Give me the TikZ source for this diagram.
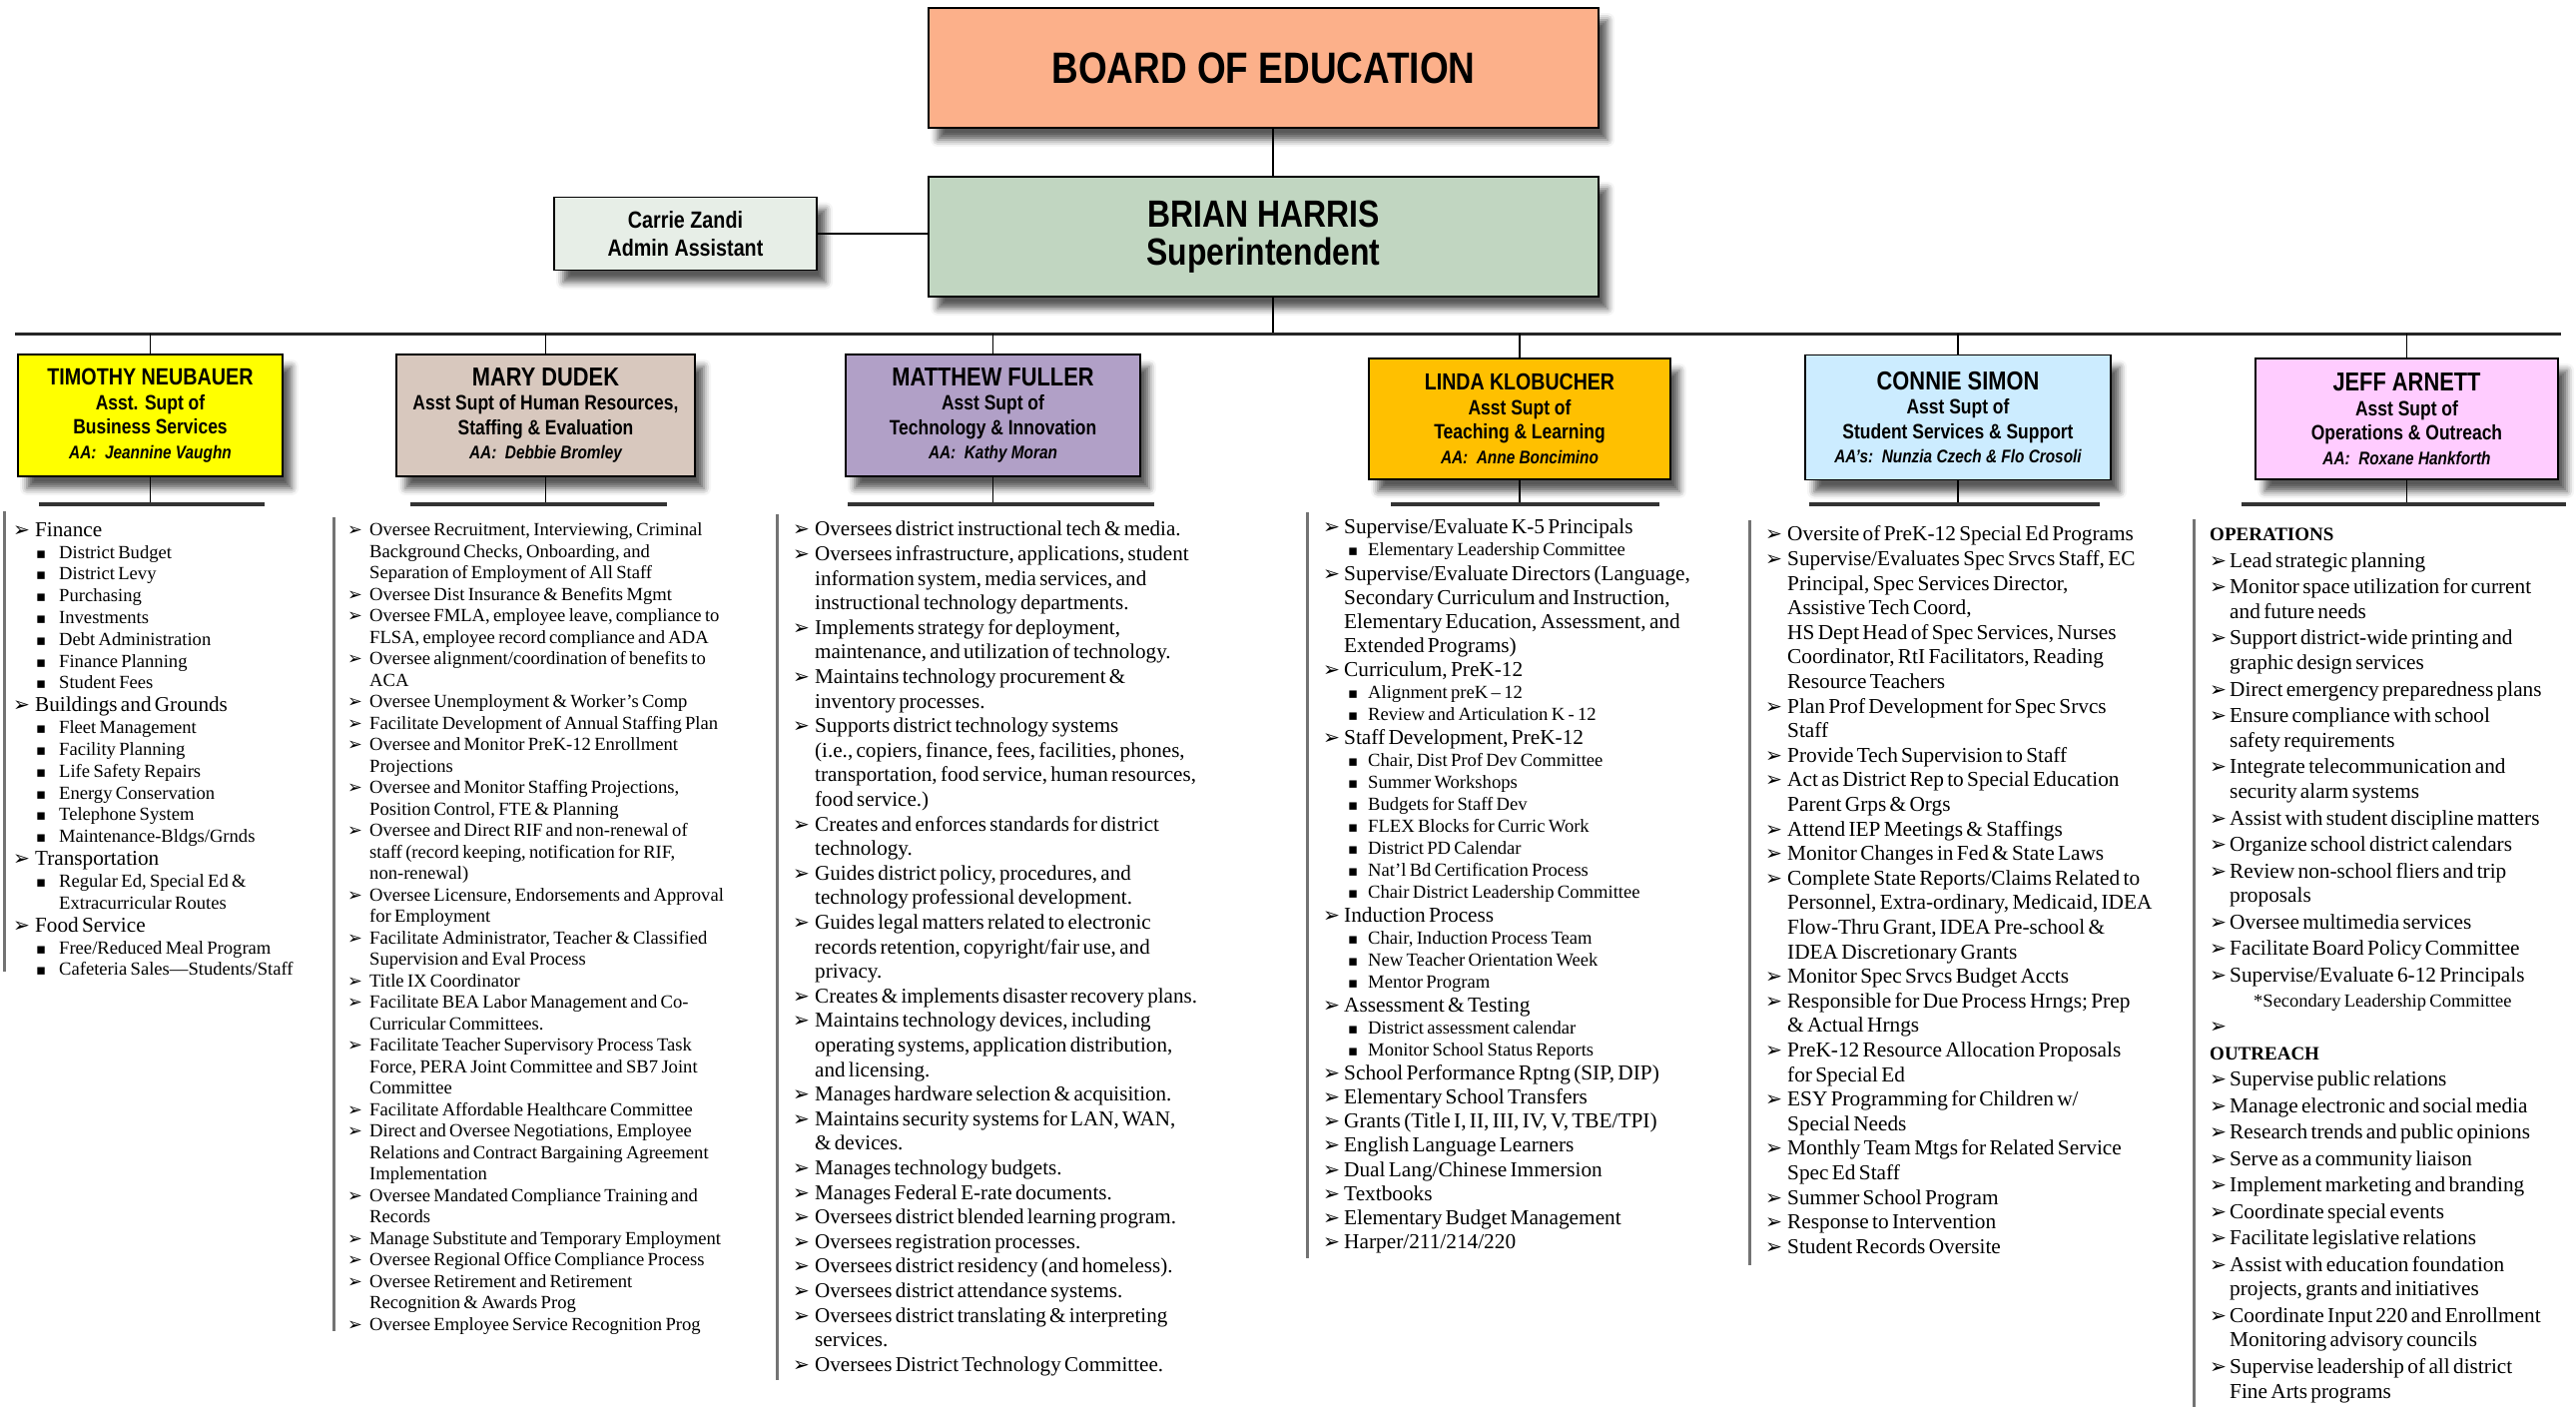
\documentclass[tikz,border=0pt]{standalone}
\usepackage{fontspec}
\setmainfont{Liberation Serif}
\newfontfamily\headfont[FakeStretch=0.84]{Liberation Sans}
\newfontfamily\dingfont{DejaVu Sans}
\usetikzlibrary{shadows.blur}

\definecolor{boardorange}{RGB}{252,176,138}
\definecolor{supgreen}{RGB}{193,214,193}
\definecolor{aidegreen}{RGB}{231,238,231}
\definecolor{bizyellow}{RGB}{255,255,0}
\definecolor{hrtan}{RGB}{216,200,190}
\definecolor{techlilac}{RGB}{177,160,199}
\definecolor{teachgold}{RGB}{255,192,0}
\definecolor{studblue}{RGB}{204,236,255}
\definecolor{opspink}{RGB}{255,204,255}

% duty lists
\newlength{\tickw}\newlength{\subin}\newlength{\subw}
\newcommand{\bigitemfont}{}
\newcommand{\smallitemfont}{}
\newcommand{\tstrut}{\vrule height .75em depth 0pt width 0pt}
\newcommand{\listsetup}[7]{\setlength{\tickw}{#1}\setlength{\subin}{#2}\setlength{\subw}{#3}%
  \renewcommand{\bigitemfont}{\fontsize{#4}{#5}\selectfont}%
  \renewcommand{\smallitemfont}{\fontsize{#6}{#7}\selectfont}\parskip=0pt}
\newcommand{\mainpt}[1]{\par\bigitemfont\hangindent=\tickw\hangafter=1\noindent
  \makebox[\tickw][l]{\scalebox{.95}{\dingfont ➢}}\tstrut#1}
\newcommand{\subpt}[1]{\par\smallitemfont\hangindent=\dimexpr\tickw+\subin+\subw\relax\hangafter=1\noindent
  \hspace*{\dimexpr\tickw+\subin\relax}\makebox[\subw][l]{\scalebox{.8}{\dingfont ▪}}\tstrut#1}
\newcommand{\grouphead}[1]{\par\fontsize{19}{24.7}\selectfont\bfseries\noindent\tstrut#1\par\mdseries}
\newcommand{\notept}[1]{\par\smallitemfont\noindent\hspace*{44pt}\tstrut#1}

% box titles
\newcommand{\headname}[2]{{\fontsize{#1}{24.5}\selectfont #2}}
\newcommand{\aaline}[1]{{\itshape\fontsize{18.3}{24.5}\selectfont #1}}

\tikzset{
  box/.style={draw=black, line width=1.4pt, inner sep=0pt, align=center,
    blur shadow={shadow xshift=9pt, shadow yshift=-12pt, shadow blur radius=7pt, shadow opacity=65}},
  topbox/.style={box},
  headbox/.style={box, minimum height=122pt, font=\headfont\bfseries\fontsize{20.8}{24.5}\selectfont},
  wire/.style={line width=1.6pt},
  bus/.style={line width=3pt, black!85},
  colbar/.style={line width=3.5pt, black!80},
  colrule/.style={line width=3pt, black!55},
  column/.style={anchor=north west, inner sep=0pt, text width=560pt}
}

\begin{document}
\begin{tikzpicture}[x=1pt,y=-1pt]
\useasboundingbox (0,0) rectangle (2580,1413);

% board and superintendent
\node[topbox, fill=boardorange, minimum width=671pt, minimum height=120pt,
  font=\headfont\bfseries\fontsize{44}{50}\selectfont] (board) at (1265.5,68) {BOARD OF EDUCATION};
\node[topbox, fill=supgreen, minimum width=671pt, minimum height=120pt,
  font=\headfont\bfseries\fontsize{38}{38}\selectfont] (sup) at (1265.5,237) {BRIAN HARRIS\\Superintendent};
\node[topbox, fill=aidegreen, minimum width=263pt, minimum height=73pt,
  font=\headfont\bfseries\fontsize{23.5}{28}\selectfont] (aide) at (686.5,234) {Carrie Zandi\\Admin Assistant};

\coordinate (trunk) at (1275,334);
\draw[wire] (board.south -| trunk) -- (sup.north -| trunk);
\draw[wire] (aide.east) -- (aide.east -| sup.west);
\draw[wire] (sup.south -| trunk) -- (trunk);
\draw[bus] (15,334) -- (2565,334);

% assistant superintendents
\node[headbox, fill=bizyellow, minimum width=265pt] (tim) at (150.5,416)
  {\headname{23.5}{TIMOTHY NEUBAUER}\\Asst. Supt of\\Business Services\\\aaline{AA:\ \ Jeannine Vaughn}};
\node[headbox, fill=hrtan, minimum width=299pt] (mary) at (546.5,416)
  {\headname{26}{MARY DUDEK}\\Asst Supt of Human Resources,\\Staffing \& Evaluation\\\aaline{AA:\ \ Debbie Bromley}};
\node[headbox, fill=techlilac, minimum width=295pt] (matt) at (994.5,416)
  {\headname{26}{MATTHEW FULLER}\\Asst Supt of\\Technology \& Innovation\\\aaline{AA:\ \ Kathy Moran}};
\node[headbox, fill=teachgold, minimum width=302pt, minimum height=121pt] (linda) at (1522,419.5)
  {\headname{23.3}{LINDA KLOBUCHER}\\Asst Supt of\\Teaching \& Learning\\\aaline{AA:\ \ Anne Boncimino}};
\node[headbox, fill=studblue, minimum width=306pt, minimum height=125pt] (connie) at (1961,418)
  {\headname{26}{CONNIE SIMON}\\Asst Supt of\\Student Services \& Support\\\aaline{AA’s:\ \ Nunzia Czech \& Flo Crosoli}};
\node[headbox, fill=opspink, minimum width=303pt, minimum height=121pt] (jeff) at (2410.5,419.5)
  {\headname{26}{JEFF ARNETT}\\Asst Supt of\\Operations \& Outreach\\\aaline{AA:\ \ Roxane Hankforth}};

\foreach \h/\a/\b in {tim/39/265, mary/411/668, matt/849/1156, linda/1393/1662, connie/1812/2103, jeff/2245/2570} {
  \draw[wire] (\h.north) -- (\h.north |- trunk);
  \draw[wire] (\h.south) -- (\h.south |- 0,505);
  \draw[colbar] (\a,505) -- (\b,505);
}

% rules beside the lists
\draw[colrule] (4,512) -- (4,973);
\draw[colrule] (334,518) -- (334,1333);
\draw[colrule] (778,515) -- (778,1382);
\draw[colrule] (1309,513) -- (1309,1260);
\draw[colrule] (1752,521) -- (1752,1267);
\draw[colrule] (2197,520) -- (2197,1409);

% business services
\node[column] (bizlist) at (13,514) {\listsetup{22pt}{1pt}{23pt}{21.2}{23}{18.6}{21.8}%
\mainpt{Finance}
\subpt{District Budget}
\subpt{District Levy}
\subpt{Purchasing}
\subpt{Investments}
\subpt{Debt Administration}
\subpt{Finance Planning}
\subpt{Student Fees}
\mainpt{Buildings and Grounds}
\subpt{Fleet Management}
\subpt{Facility Planning}
\subpt{Life Safety Repairs}
\subpt{Energy Conservation}
\subpt{Telephone System}
\subpt{Maintenance-Bldgs/Grnds}
\mainpt{Transportation}
\subpt{Regular Ed, Special Ed \&\newline Extracurricular Routes}
\mainpt{Food Service}
\subpt{Free/Reduced Meal Program}
\subpt{Cafeteria Sales—Students/Staff}
\par};

% human resources
\node[column] (hrlist) at (348,515) {\listsetup{22pt}{0pt}{0pt}{18.6}{21.5}{18.6}{21.5}%
\mainpt{Oversee Recruitment, Interviewing, Criminal\newline Background Checks, Onboarding, and\newline Separation of Employment of All Staff}
\mainpt{Oversee Dist Insurance \& Benefits Mgmt}
\mainpt{Oversee FMLA, employee leave, compliance to\newline FLSA, employee record compliance and ADA}
\mainpt{Oversee alignment/coordination of benefits to\newline ACA}
\mainpt{Oversee Unemployment \& Worker’s Comp}
\mainpt{Facilitate Development of Annual Staffing Plan}
\mainpt{Oversee and Monitor PreK-12 Enrollment\newline Projections}
\mainpt{Oversee and Monitor Staffing Projections,\newline Position Control, FTE \& Planning}
\mainpt{Oversee and Direct RIF and non-renewal of\newline staff (record keeping, notification for RIF,\newline non-renewal)}
\mainpt{Oversee Licensure, Endorsements and Approval\newline for Employment}
\mainpt{Facilitate Administrator, Teacher \& Classified\newline Supervision and Eval Process}
\mainpt{Title IX Coordinator}
\mainpt{Facilitate BEA Labor Management and Co-\newline Curricular Committees.}
\mainpt{Facilitate Teacher Supervisory Process Task\newline Force, PERA Joint Committee and SB7 Joint\newline Committee}
\mainpt{Facilitate Affordable Healthcare Committee}
\mainpt{Direct and Oversee Negotiations, Employee\newline Relations and Contract Bargaining Agreement\newline Implementation}
\mainpt{Oversee Mandated Compliance Training and\newline Records}
\mainpt{Manage Substitute and Temporary Employment}
\mainpt{Oversee Regional Office Compliance Process}
\mainpt{Oversee Retirement and Retirement\newline Recognition \& Awards Prog}
\mainpt{Oversee Employee Service Recognition Prog}
\par};

% technology
\node[column] (techlist) at (794,512) {\listsetup{22pt}{0pt}{0pt}{21.1}{24.6}{18.6}{21.5}%
\mainpt{Oversees district instructional tech \& media.}
\mainpt{Oversees infrastructure, applications, student\newline information system, media services, and\newline instructional technology departments.}
\mainpt{Implements strategy for deployment,\newline maintenance, and utilization of technology.}
\mainpt{Maintains technology procurement \&\newline inventory processes.}
\mainpt{Supports district technology systems\newline (i.e., copiers, finance, fees, facilities, phones,\newline transportation, food service, human resources,\newline food service.)}
\mainpt{Creates and enforces standards for district\newline technology.}
\mainpt{Guides district policy, procedures, and\newline technology professional development.}
\mainpt{Guides legal matters related to electronic\newline records retention, copyright/fair use, and\newline privacy.}
\mainpt{Creates \& implements disaster recovery plans.}
\mainpt{Maintains technology devices, including\newline operating systems, application distribution,\newline and licensing.}
\mainpt{Manages hardware selection \& acquisition.}
\mainpt{Maintains security systems for LAN, WAN,\newline \& devices.}
\mainpt{Manages technology budgets.}
\mainpt{Manages Federal E-rate documents.}
\mainpt{Oversees district blended learning program.}
\mainpt{Oversees registration processes.}
\mainpt{Oversees district residency (and homeless).}
\mainpt{Oversees district attendance systems.}
\mainpt{Oversees district translating \& interpreting\newline services.}
\mainpt{Oversees District Technology Committee.}
\par};

% teaching and learning
\node[column] (teachlist) at (1325,510.5) {\listsetup{21pt}{4pt}{20pt}{21.3}{24.2}{18.6}{21.9}%
\mainpt{Supervise/Evaluate K-5 Principals}
\subpt{Elementary Leadership Committee}
\mainpt{Supervise/Evaluate Directors (Language,\newline Secondary Curriculum and Instruction,\newline Elementary Education, Assessment, and\newline Extended Programs)}
\mainpt{Curriculum, PreK-12}
\subpt{Alignment preK – 12}
\subpt{Review and Articulation K - 12}
\mainpt{Staff Development, PreK-12}
\subpt{Chair, Dist Prof Dev Committee}
\subpt{Summer Workshops}
\subpt{Budgets for Staff Dev}
\subpt{FLEX Blocks for Curric Work}
\subpt{District PD Calendar}
\subpt{Nat’l Bd Certification Process}
\subpt{Chair District Leadership Committee}
\mainpt{Induction Process}
\subpt{Chair, Induction Process Team}
\subpt{New Teacher Orientation Week}
\subpt{Mentor Program}
\mainpt{Assessment \& Testing}
\subpt{District assessment calendar}
\subpt{Monitor School Status Reports}
\mainpt{School Performance Rptng (SIP, DIP)}
\mainpt{Elementary School Transfers}
\mainpt{Grants (Title I, II, III, IV, V, TBE/TPI)}
\mainpt{English Language Learners}
\mainpt{Dual Lang/Chinese Immersion}
\mainpt{Textbooks}
\mainpt{Elementary Budget Management}
\mainpt{Harper/211/214/220}
\par};

% student services
\node[column] (studlist) at (1768,517) {\listsetup{22pt}{0pt}{0pt}{21.3}{24.6}{18.6}{21.5}%
\mainpt{Oversite of PreK-12 Special Ed Programs}
\mainpt{Supervise/Evaluates Spec Srvcs Staff, EC\newline Principal, Spec Services Director,\newline Assistive Tech Coord,\newline HS Dept Head of Spec Services, Nurses\newline Coordinator, RtI Facilitators, Reading\newline Resource Teachers}
\mainpt{Plan Prof Development for Spec Srvcs\newline Staff}
\mainpt{Provide Tech Supervision to Staff}
\mainpt{Act as District Rep to Special Education\newline Parent Grps \& Orgs}
\mainpt{Attend IEP Meetings \& Staffings}
\mainpt{Monitor Changes in Fed \& State Laws}
\mainpt{Complete State Reports/Claims Related to\newline Personnel, Extra-ordinary, Medicaid, IDEA\newline Flow-Thru Grant, IDEA Pre-school \&\newline IDEA Discretionary Grants}
\mainpt{Monitor Spec Srvcs Budget Accts}
\mainpt{Responsible for Due Process Hrngs; Prep\newline \& Actual Hrngs}
\mainpt{PreK-12 Resource Allocation Proposals\newline for Special Ed}
\mainpt{ESY Programming for Children w/\newline Special Needs}
\mainpt{Monthly Team Mtgs for Related Service\newline Spec Ed Staff}
\mainpt{Summer School Program}
\mainpt{Response to Intervention}
\mainpt{Student Records Oversite}
\par};

% operations and outreach
\node[column] (opslist) at (2213,515) {\listsetup{20pt}{0pt}{0pt}{21.3}{24.7}{18.5}{23}\parskip=1.8pt%
\grouphead{OPERATIONS}
\mainpt{Lead strategic planning}
\mainpt{Monitor space utilization for current\newline and future needs}
\mainpt{Support district-wide printing and\newline graphic design services}
\mainpt{Direct emergency preparedness plans}
\mainpt{Ensure compliance with school\newline safety requirements}
\mainpt{Integrate telecommunication and\newline security alarm systems}
\mainpt{Assist with student discipline matters}
\mainpt{Organize school district calendars}
\mainpt{Review non-school fliers and trip\newline proposals}
\mainpt{Oversee multimedia services}
\mainpt{Facilitate Board Policy Committee}
\mainpt{Supervise/Evaluate 6-12 Principals}
\notept{*Secondary Leadership Committee}
\mainpt{}
\grouphead{OUTREACH}
\mainpt{Supervise public relations}
\mainpt{Manage electronic and social media}
\mainpt{Research trends and public opinions}
\mainpt{Serve as a community liaison}
\mainpt{Implement marketing and branding}
\mainpt{Coordinate special events}
\mainpt{Facilitate legislative relations}
\mainpt{Assist with education foundation\newline projects, grants and initiatives}
\mainpt{Coordinate Input 220 and Enrollment\newline Monitoring advisory councils}
\mainpt{Supervise leadership of all district\newline Fine Arts programs}
\par};
\end{tikzpicture}
\end{document}
